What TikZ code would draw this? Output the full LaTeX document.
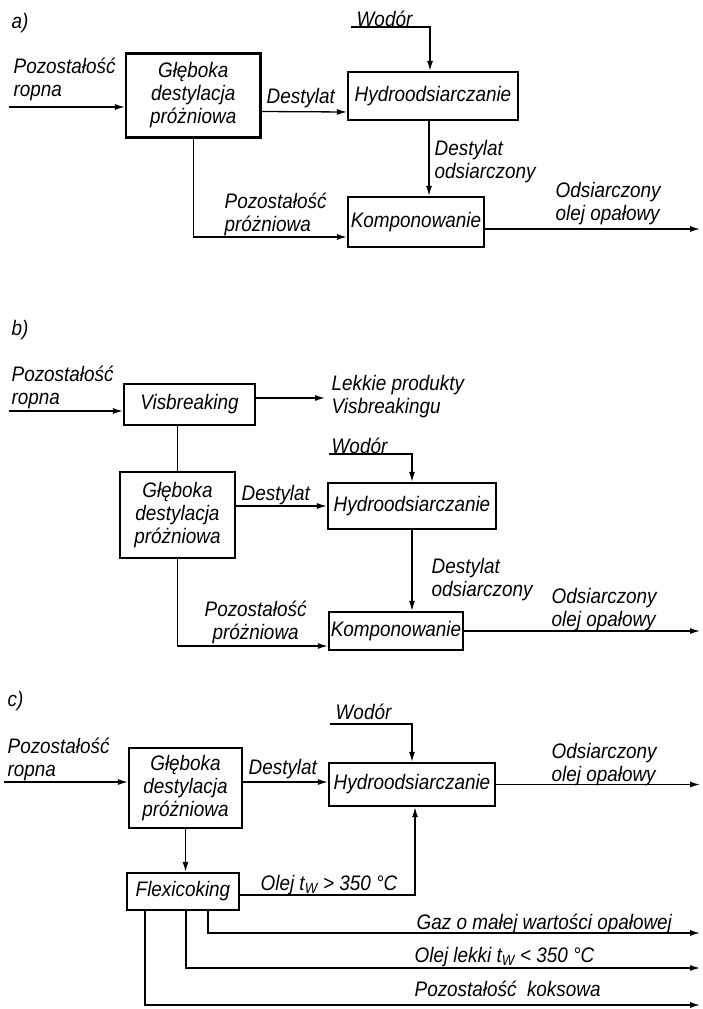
\documentclass[tikz,border=0pt]{standalone}
\usepackage{fontspec}
\newfontfamily\flowfont{Liberation Sans}[FakeStretch=0.9]
\usepackage{tikz}
\usetikzlibrary{arrows.meta}
\tikzset{
  flowsheet/.style={
    x=1pt, y=-1pt,
    >={Latex[length=10pt,width=6pt]},
    line width=1.3pt,
    every node/.style={font=\flowfont\itshape\fontsize{21}{23}\selectfont}
  },
  unit/.style={                    % process box
    draw, line width=2.2pt,
    align=center, inner sep=2pt
  },
  flow/.style={->, line width=1.3pt},
  pipe/.style={line width=1.3pt},
  stream/.style={inner sep=0pt, align=left, anchor=north west},
  tag/.style={inner sep=0pt, anchor=west}
}

\begin{document}
\begin{tikzpicture}[flowsheet]
\useasboundingbox (0,0) rectangle (702,1009);

% ---------------- a) ----------------
\node[tag] (a-tag) at (11,23) {a)};
\node[unit, minimum width=134.5pt, minimum height=84pt] (a-glebok) at (193.25,95.5)
  {Głęboka\\destylacja\\próżniowa};
\node[unit, minimum width=170pt, minimum height=48pt] (a-hydro) at (433,96) {Hydroodsiarczanie};
\node[unit, minimum width=136pt, minimum height=50pt] (a-komp) at (416,222) {Komponowanie};

\coordinate (a-in)  at (9,107);
\coordinate (a-h2)  at (351,27);
\coordinate (a-out) at (700,229);
\coordinate (a-mid) at ([xshift=-4pt]a-hydro.south);

\draw[flow] (a-in) -- (a-in -| a-glebok.west);
\draw[flow] ([yshift=-16pt]a-glebok.east) -- ([yshift=-16pt]a-hydro.west);
\draw[flow] (a-h2) -| ([xshift=-3pt]a-hydro.north);
\draw[flow] (a-mid) -- (a-mid |- a-komp.north);
\draw[flow] (a-glebok.south) |- ([yshift=-15pt]a-komp.west);
\draw[flow] ([yshift=-7pt]a-komp.east) -- (a-out);

\node[stream] (a-ropa)   at (13,57)   {Pozostałość\\ropna};
\node[stream] (a-dest)   at (266,88)  {Destylat};
\node[stream] (a-wodor)  at (356,10)  {Wodór};
\node[stream] (a-odsiar) at (434,140) {Destylat\\odsiarczony};
\node[stream] (a-pozost) at (224,192) {Pozostałość\\próżniowa};
\node[stream] (a-olej)   at (555,182) {Odsiarczony\\olej opałowy};

% ---------------- b) ----------------
\node[tag] (b-tag) at (11,330) {b)};
\node[unit, minimum width=131pt, minimum height=41pt] (b-visb) at (189.5,404.5) {Visbreaking};
\node[unit, minimum width=115pt, minimum height=86pt] (b-glebok) at (177.5,515)
  {Głęboka\\destylacja\\próżniowa};
\node[unit, minimum width=168pt, minimum height=46pt] (b-hydro) at (412,506) {Hydroodsiarczanie};
\node[unit, minimum width=132pt, minimum height=38pt] (b-komp) at (396,631) {Komponowanie};

\coordinate (b-in)     at (9,411);
\coordinate (b-lekkie) at (325,398);
\coordinate (b-h2)     at (329,454);
\coordinate (b-out)    at (700,631);

\draw[flow] (b-in) -- (b-in -| b-visb.west);
\draw[flow] ([yshift=6.5pt]b-visb.east) -- (b-lekkie);
\draw[pipe] (b-glebok.north |- b-visb.south) -- (b-glebok.north);
\draw[flow] (b-hydro.west -| b-glebok.east) -- (b-hydro.west);
\draw[flow] (b-h2) -| (b-hydro.north);
\draw[flow] (b-hydro.south) -- (b-hydro.south |- b-komp.north);
\draw[flow] (b-glebok.south) |- ([yshift=-15pt]b-komp.west);
\draw[flow] (b-komp.east) -- (b-out);

\node[stream] (b-ropa)   at (11,365)  {Pozostałość\\ropna};
\node[stream] (b-lekk)   at (331,375) {Lekkie produkty\\Visbreakingu};
\node[stream] (b-wodor)  at (331,437) {Wodór};
\node[stream] (b-dest)   at (241,485) {Destylat};
\node[stream] (b-odsiar) at (431,558) {Destylat\\odsiarczony};
\node[stream, align=center] (b-pozost) at (204,600) {Pozostałość\\próżniowa};
\node[stream] (b-olej)   at (551,588) {Odsiarczony\\olej opałowy};

% ---------------- c) ----------------
\node[tag] (c-tag) at (7,701) {c)};
\node[unit, minimum width=113pt, minimum height=80pt] (c-glebok) at (185.5,788)
  {Głęboka\\destylacja\\próżniowa};
\node[unit, minimum width=166pt, minimum height=43pt] (c-hydro) at (412,784.5) {Hydroodsiarczanie};
\node[unit, minimum width=112pt, minimum height=37pt] (c-flexi) at (183,891.5) {Flexicoking};

\coordinate (c-in)    at (4,782);
\coordinate (c-h2)    at (330,724);
\coordinate (c-out)   at (700,786);
\coordinate (c-gaz)   at (700,933);
\coordinate (c-lekki) at (700,968);
\coordinate (c-koks)  at (700,1005);

\draw[flow] (c-in) -- (c-in -| c-glebok.west);
\draw[flow] (c-in -| c-glebok.east) -- (c-in -| c-hydro.west);
\draw[flow] (c-h2) -| (c-hydro.north);
\draw[flow] (c-hydro.east) -- (c-hydro.east -| c-out);
\draw[flow] (c-glebok.south) -- (c-glebok.south |- c-flexi.north);
\draw[flow] ([yshift=-3.5pt]c-flexi.east) -| ([xshift=3pt]c-hydro.south);
% flexicoking products leave from the bottom of the box
\draw[flow] ([xshift=25pt]c-flexi.south) |- (c-gaz);
\draw[flow] ([xshift=3pt]c-flexi.south) |- (c-lekki);
\draw[flow] ([xshift=-38pt]c-flexi.south) |- (c-koks);

\node[stream] (c-wodor) at (335,703) {Wodór};
\node[stream] (c-ropa)  at (7,737)   {Pozostałość\\ropna};
\node[stream] (c-dest)  at (248,759) {Destylat};
\node[stream] (c-olej)  at (551,743) {Odsiarczony\\olej opałowy};
\node[stream] (c-ciezki) at (260,875) {Olej t\textsubscript{W} > 350 °C};
\node[stream] (c-gazl)  at (416,913) {Gaz o małej wartości opałowej};
\node[stream] (c-lekkl) at (414,947) {Olej lekki t\textsubscript{W} < 350 °C};
\node[stream] (c-koksl) at (414,980) {Pozostałość\enspace koksowa};

\end{tikzpicture}
\end{document}
